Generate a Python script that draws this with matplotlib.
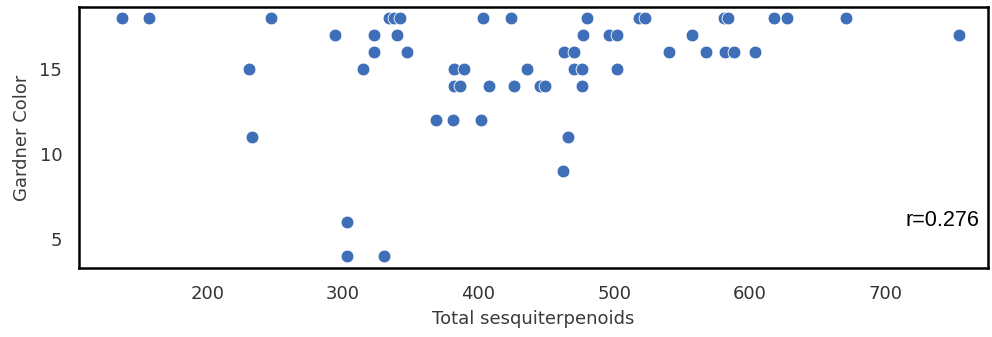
import matplotlib
matplotlib.use("Agg")
import matplotlib.pyplot as plt
import numpy as np

total_sesquiterpenoids = [
    137, 157, 247, 334, 338, 342, 403, 424, 480, 518, 523, 581, 584, 618, 627, 671,
    294, 323, 340, 477, 496, 502, 557, 754,
    323, 347, 463, 470, 540, 568, 582, 588, 604,
    231, 315, 382, 389, 436, 470, 476, 502,
    382, 386, 408, 426, 445, 449, 476,
    369, 381, 402,
    233, 466,
    462,
    303,
    303, 330,
]
gardner_color = [
    18, 18, 18, 18, 18, 18, 18, 18, 18, 18, 18, 18, 18, 18, 18, 18,
    17, 17, 17, 17, 17, 17, 17, 17,
    16, 16, 16, 16, 16, 16, 16, 16, 16,
    15, 15, 15, 15, 15, 15, 15, 15,
    14, 14, 14, 14, 14, 14, 14,
    12, 12, 12,
    11, 11,
    9,
    6,
    4, 4,
]
r_label = "r=0.276"
x_ticks = [200, 300, 400, 500, 600, 700]
y_ticks = [5, 10, 15]

fig = plt.figure(figsize=(9.92, 3.37), dpi=100)
ax = fig.add_axes([0.0796, 0.205, 0.9164, 0.774])
ax.scatter(total_sesquiterpenoids, gardner_color, s=85, color="#3f6fb8",
           edgecolor="white", linewidth=0.6, zorder=3)
ax.set_xlim(105.5, 775.5)
ax.set_ylim(3.3, 18.65)
ax.set_xticks(x_ticks)
ax.set_yticks(y_ticks)
ax.tick_params(axis="both", length=0, labelsize=13, colors="#333333", pad=12)
for s in ax.spines.values():
    s.set_linewidth(1.8)
    s.set_color("black")
ax.set_xlabel("Total sesquiterpenoids", fontsize=13, color="#3a3a3a", labelpad=5)
ax.set_ylabel("Gardner Color", fontsize=13, color="#3a3a3a", labelpad=6)
ax.text(0.99, 0.18, r_label, transform=ax.transAxes, ha="right", va="center",
        fontsize=15.5, family="Liberation Sans", color="black")
fig.savefig("out.png", dpi=100)
